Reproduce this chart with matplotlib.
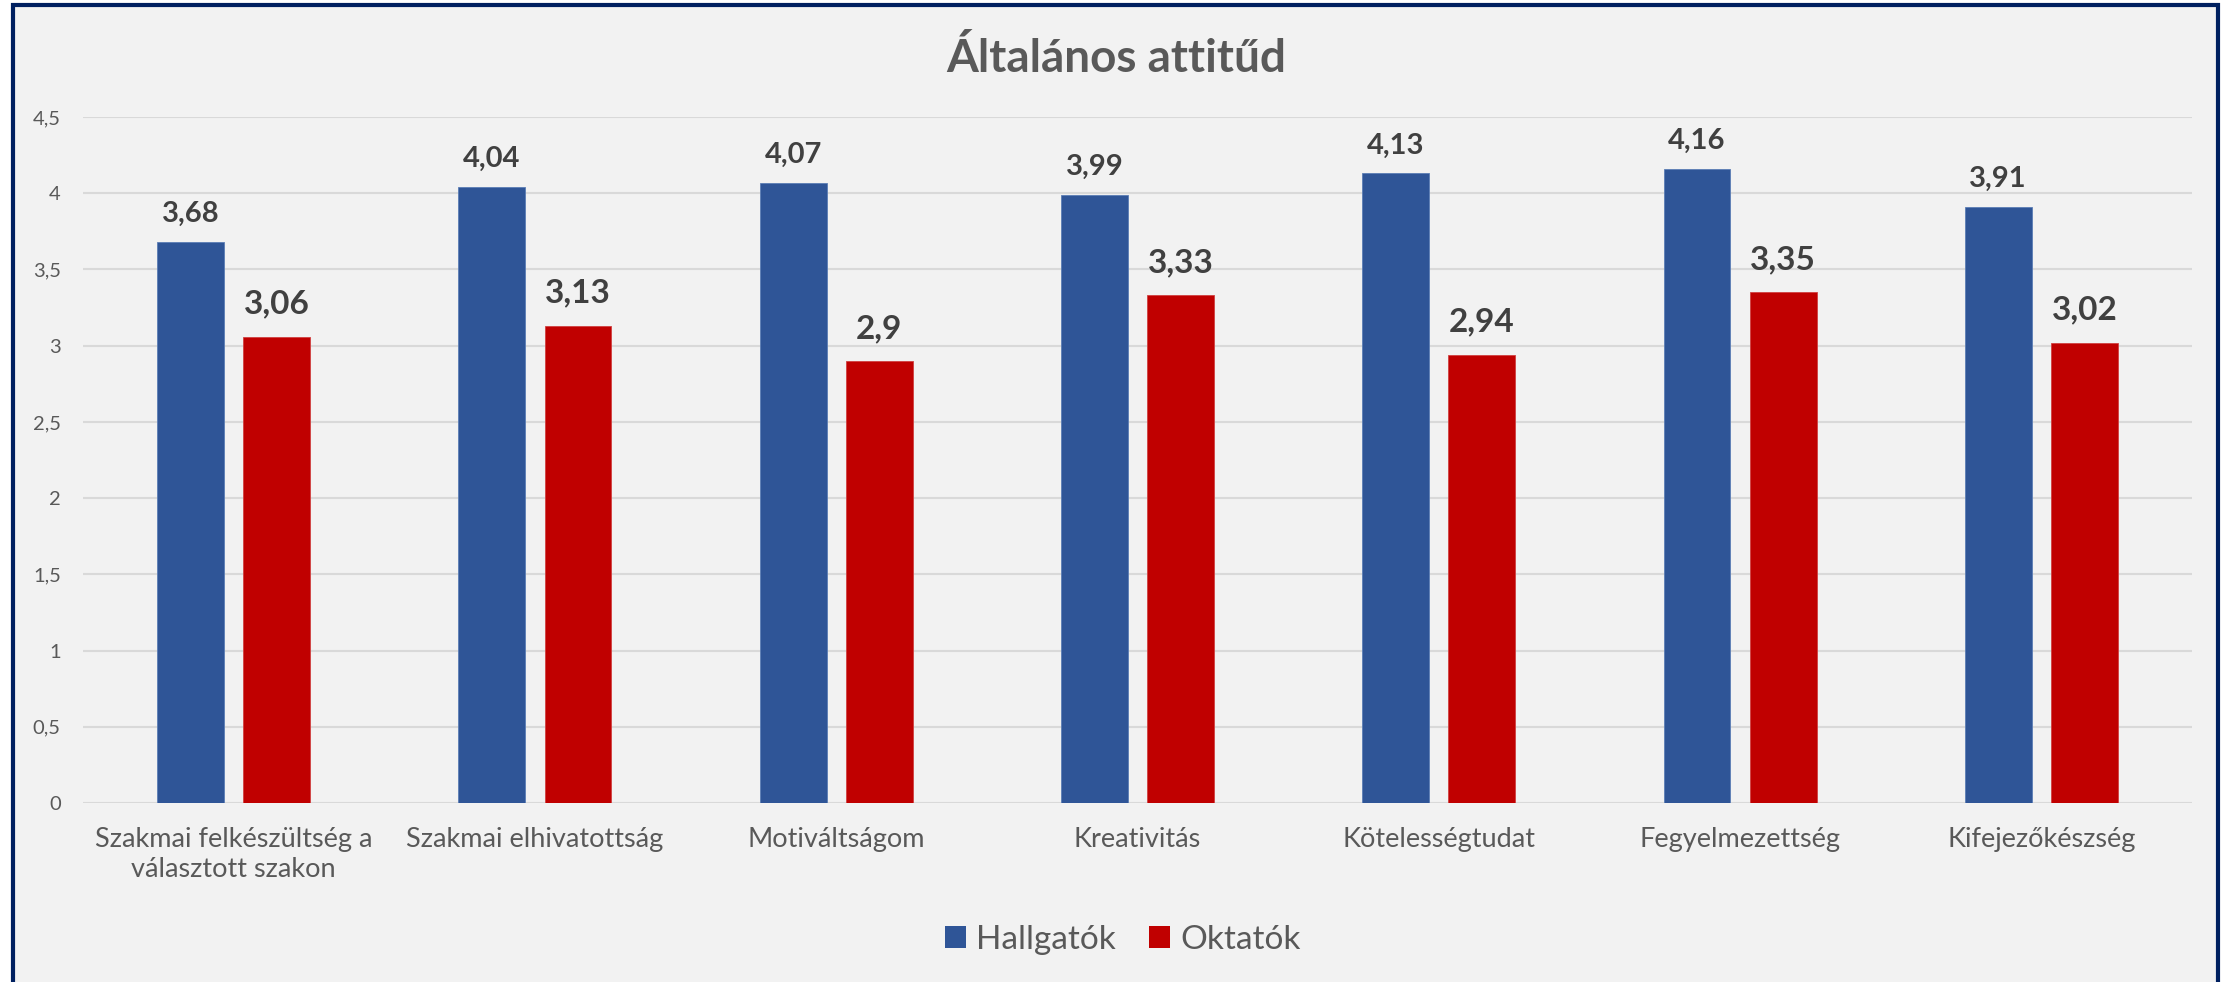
import matplotlib
matplotlib.use("Agg")
import matplotlib.pyplot as plt
from matplotlib.patches import Rectangle, Patch
import numpy as np

categories = ["Szakmai felkészültség a\nválasztott szakon", "Szakmai elhivatottság",
              "Motiváltságom", "Kreativitás", "Kötelességtudat",
              "Fegyelmezettség", "Kifejezőkészség"]
hallgatok = [3.68, 4.04, 4.07, 3.99, 4.13, 4.16, 3.91]
oktatok = [3.06, 3.13, 2.90, 3.33, 2.94, 3.35, 3.02]
series_names = ["Hallgatók", "Oktatók"]
yticks = [0, 0.5, 1, 1.5, 2, 2.5, 3, 3.5, 4, 4.5]
ytick_labels = ["0", "0,5", "1", "1,5", "2", "2,5", "3", "3,5", "4", "4,5"]
title = "Általános attitűd"

BLUE = "#2F5597"
RED = "#C00000"
GRID = "#D9D9D9"
TXT = "#595959"
LBL = "#404040"

plt.rcParams['font.family'] = ['Lato', 'DejaVu Sans']

W, H = 2226, 982
fig = plt.figure(figsize=(W / 100, H / 100), dpi=100)
fig.patch.set_facecolor("white")

# chart frame
fig.patches.append(Rectangle((13 / W, -0.05), (2218 - 13) / W, 1.05 - 5 / H,
                             transform=fig.transFigure, facecolor="#F2F2F2",
                             edgecolor="#002060", linewidth=3.0, zorder=-5))

ax = fig.add_axes([83 / W, 1 - 803 / H, (2192 - 83) / W, (803 - 117) / H])
ax.set_zorder(2)
ax.set_facecolor("none")
x = np.arange(len(categories))
bw = 0.222
off = 0.143
ax.bar(x - off, hallgatok, bw, color=BLUE, edgecolor="#5B7DB5", linewidth=0.6, zorder=3)
ax.bar(x + off, oktatok, bw, color=RED, edgecolor="#D04040", linewidth=0.6, zorder=3)

def fmt(v):
    return f"{v:g}".replace(".", ",")

for xi, v in zip(x, hallgatok):
    ax.annotate(fmt(v), (xi - off, v), xytext=(0, 14.4), textcoords="offset points",
                ha="center", va="baseline", fontsize=21, fontweight="bold", color=LBL)
for xi, v in zip(x, oktatok):
    ax.annotate(fmt(v), (xi + off, v), xytext=(0, 16.6), textcoords="offset points",
                ha="center", va="baseline", fontsize=24, fontweight="bold", color=LBL)

ax.set_xlim(-0.5, len(categories) - 0.5)
ax.set_ylim(0, 4.5)
ax.set_yticks(yticks)
ax.set_yticklabels(ytick_labels)
ax.set_xticks(x)
ax.set_xticklabels(categories, linespacing=1.25)
ax.tick_params(axis="y", length=0, pad=16, labelsize=14.5, labelcolor=TXT)
ax.tick_params(axis="x", length=0, pad=17, labelsize=19.5, labelcolor=TXT)
for s in ax.spines.values():
    s.set_visible(False)
ax.grid(axis="y", color=GRID, linewidth=1.5, zorder=0)
ax.set_axisbelow(True)

fig.text(1116 / W, 1 - 72 / H, title, ha="center", va="baseline",
         fontsize=33, fontweight="bold", color=TXT)

handles = [Patch(facecolor=BLUE), Patch(facecolor=RED)]
fig.legend(handles, series_names, loc="center", bbox_to_anchor=(1123 / W, 1 - 940 / H),
           ncol=2, frameon=False, fontsize=24, handlelength=0.63, handleheight=0.63,
           handletextpad=0.3, columnspacing=1.0, labelcolor=TXT)

fig.savefig("out.png", dpi=100, facecolor=fig.get_facecolor())
